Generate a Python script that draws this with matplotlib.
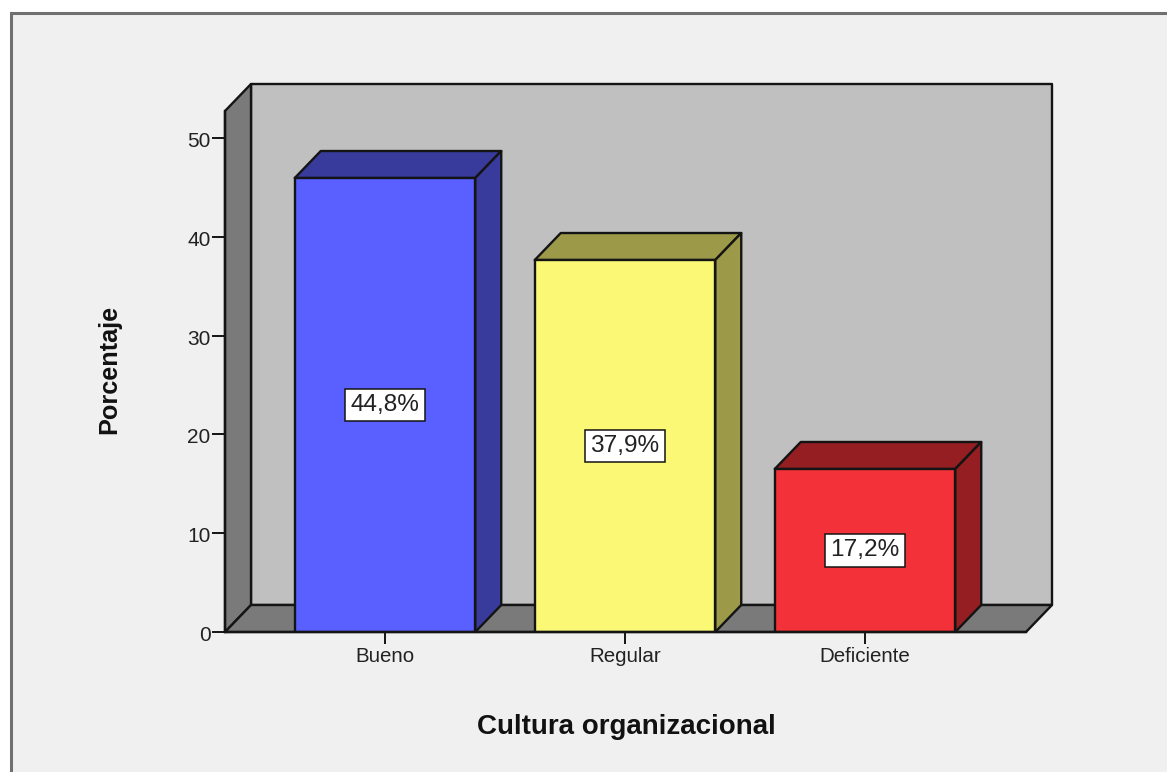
import matplotlib
matplotlib.use('Agg')
import matplotlib.pyplot as plt
from matplotlib.patches import Polygon, Rectangle
from matplotlib.transforms import ScaledTranslation

plt.rcParams['font.family'] = ['Liberation Sans', 'DejaVu Sans']

# Data
categories = ['Bueno', 'Regular', 'Deficiente']
bar_heights = [45.95, 37.65, 16.5]
bar_labels = ['44,8%', '37,9%', '17,2%']
front_colors = ['#5a60ff', '#fbf876', '#f23238']
side_colors = ['#383b9c', '#9c9a48', '#941e22']
y_ticks = [0, 10, 20, 30, 40, 50]

W, H = 1167, 772
fig = plt.figure(figsize=(W / 100, H / 100), dpi=100, facecolor='white')

# Grey panel behind the chart, only top and left border show
panel = Rectangle((11 / W, -0.05), 1.1, 1.05 - 13 / H, transform=fig.transFigure,
                  facecolor='#f0f0f0', edgecolor='#707070', linewidth=2.2, zorder=0)
fig.add_artist(panel)

ax = fig.add_axes([225 / W, 1 - 632 / H, (1026 - 225) / W, (632 - 111) / H])
ax.set_zorder(2)
ax.patch.set_visible(False)
ax.set_xlim(-160 / 240, 641 / 240)
ax.set_ylim(0, 521 / 9.88)

# Depth of the fake 3D, in data units
dx = 26 / 240
dy = 27 / 9.88
x0, x1 = ax.get_xlim()
ytop = ax.get_ylim()[1]
edge = '#141414'
lw = 1.7


def poly(points, color, z):
    ax.add_patch(Polygon(points, closed=True, facecolor=color, edgecolor=edge,
                         linewidth=lw, joinstyle='round', clip_on=False, zorder=z))


# Walls and floor
poly([(x0 + dx, dy), (x1 + dx, dy), (x1 + dx, ytop + dy), (x0 + dx, ytop + dy)], '#c0c0c0', 1)
poly([(x0, 0), (x0 + dx, dy), (x0 + dx, ytop + dy), (x0, ytop)], '#7a7a7a', 2)
poly([(x0, 0), (x1, 0), (x1 + dx, dy), (x0 + dx, dy)], '#7a7a7a', 2)

# Bars
bar_w = 180.5 / 240
for i, h in enumerate(bar_heights):
    left = i - bar_w / 2
    right = i + bar_w / 2
    poly([(left, h), (right, h), (right + dx, h + dy), (left + dx, h + dy)], side_colors[i], 3)
    poly([(right, 0), (right + dx, dy), (right + dx, h + dy), (right, h)], side_colors[i], 3)
    ax.bar(i, h, width=bar_w, color=front_colors[i], edgecolor=edge, linewidth=lw, zorder=4)
    ax.text(i, h / 2, bar_labels[i], ha='center', va='center', fontsize=17.6, color='#222222', zorder=5,
            bbox=dict(boxstyle='square,pad=0.22', facecolor='white', edgecolor=edge, linewidth=1.1))

# Axes
for side in ['top', 'right']:
    ax.spines[side].set_visible(False)
for side in ['left', 'bottom']:
    ax.spines[side].set_linewidth(lw)
    ax.spines[side].set_color(edge)
    ax.spines[side].set_zorder(6)
ax.set_yticks(y_ticks)
ax.set_xticks(range(len(categories)))
ax.set_xticklabels(categories)
ax.tick_params(axis='y', length=9.4, width=1.4, color=edge, labelsize=15, labelcolor='#222222', pad=1)
ax.tick_params(axis='x', length=8.6, width=1.4, color=edge, labelsize=14.8, labelcolor='#222222', pad=2.5)

# Nudge the y labels down a little, they sit low in the original
nudge = ScaledTranslation(0, -1.5 / 100, fig.dpi_scale_trans)
for label in ax.get_yticklabels():
    label.set_transform(label.get_transform() + nudge)

fig.text(626.5 / W, 1 - 727 / H, 'Cultura organizacional', ha='center', va='center',
         fontsize=20, fontweight='bold', color='#111111')
fig.text(109 / W, 1 - 369 / H, 'Porcentaje', ha='center', va='center', rotation=90,
         fontsize=18.2, fontweight='bold', color='#111111')

fig.savefig('out.png', dpi=100, facecolor='white')
